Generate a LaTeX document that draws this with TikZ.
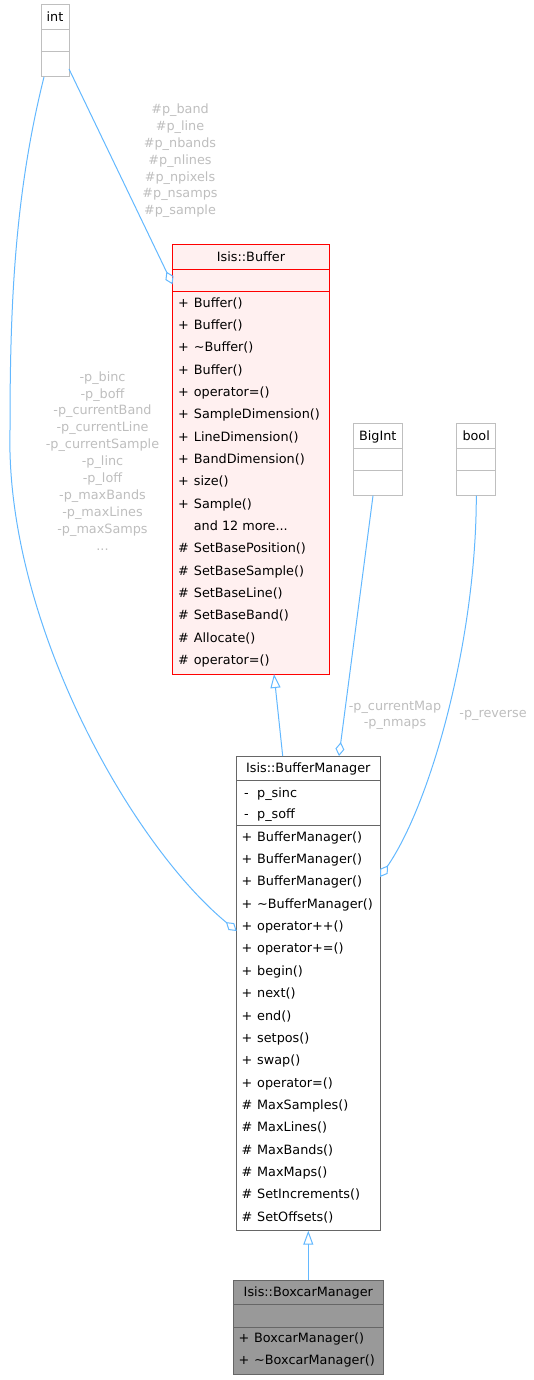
\documentclass[tikz,border=0pt]{standalone}
\usepackage{fontspec}
\setmainfont{DejaVu Sans}
\usetikzlibrary{arrows.meta}
\definecolor{edgec}{HTML}{63B8FF}
\definecolor{lblc}{HTML}{BEBEBE}
\definecolor{gryc}{HTML}{BFBFBF}
\definecolor{pinkc}{HTML}{FFF0F0}
\definecolor{dgrayc}{HTML}{666666}
\definecolor{mgrayc}{HTML}{999999}
\newcommand{\vsym}[1]{\makebox[15.7pt][l]{#1}}
\newcommand{\moretxt}{and 12 more...}
\begin{document}
\begin{tikzpicture}[x=1pt,y=-1pt, font=\fontsize{12.8}{16.9}\selectfont,
  cls/.style={draw, line width=1pt, anchor=north west, inner sep=0pt, outer sep=0pt},
  txt/.style={anchor=base west, inner sep=0pt},
  ttl/.style={anchor=base, inner sep=0pt},
  lab/.style={text=lblc, align=center, inner sep=0pt},
  edg/.style={draw=edgec, line width=1pt},
  agg/.style={edg, {Diamond[open,length=14pt,width=9pt]}-},
  inh/.style={edg, {Triangle[open,length=14pt,width=10pt]}-}]
\useasboundingbox (0,0) rectangle (533,1380);

% int
\node[cls, draw=gryc, fill=white, minimum width=28pt, minimum height=72pt] (int) at (41,5) {};
\node[ttl] (intT) at (55,22) {int};
\draw[gryc, line width=1pt] (int.west |- 0,30) -- (int.east |- 0,30);
\draw[gryc, line width=1pt] (int.west |- 0,52) -- (int.east |- 0,52);

% BigInt
\node[cls, draw=gryc, fill=white, minimum width=49pt, minimum height=72.4pt] (bigint) at (353.3,423.3) {};
\node[ttl] (bigintT) at (377.8,440.4) {BigInt};
\draw[gryc, line width=1pt] (bigint.west |- 0,448.3) -- (bigint.east |- 0,448.3);
\draw[gryc, line width=1pt] (bigint.west |- 0,470.7) -- (bigint.east |- 0,470.7);

% bool
\node[cls, draw=gryc, fill=white, minimum width=39pt, minimum height=72.4pt] (bool) at (456.7,423.3) {};
\node[ttl] (boolT) at (476.2,440.4) {bool};
\draw[gryc, line width=1pt] (bool.west |- 0,448.3) -- (bool.east |- 0,448.3);
\draw[gryc, line width=1pt] (bool.west |- 0,470.7) -- (bool.east |- 0,470.7);

% Buffer
\node[cls, draw=red, fill=pinkc, minimum width=157pt, minimum height=429.5pt] (buf) at (172.5,244.5) {};
\node[ttl] (bufT) at (251,261.6) {Isis::Buffer};
\draw[red, line width=1pt] (buf.west |- 0,269.3) -- (buf.east |- 0,269.3);
\draw[red, line width=1pt] (buf.west |- 0,291.7) -- (buf.east |- 0,291.7);
\foreach \s/\t [count=\i from 0] in {+/Buffer(), +/Buffer(), +/\textasciitilde Buffer(), +/Buffer(), +/operator=(), +/SampleDimension(), +/LineDimension(), +/BandDimension(), +/size(), +/Sample(), /\moretxt, \#/SetBasePosition(), \#/SetBaseSample(), \#/SetBaseLine(), \#/SetBaseBand(), \#/Allocate(), \#/operator=()}
  \node[txt] (bufm\i) at (178, 307.2+\i*22.33) {\vsym{\s}\t};

% BufferManager
\node[cls, draw=dgrayc, fill=white, minimum width=143.3pt, minimum height=474.7pt] (bm) at (236.7,756) {};
\node[ttl] (bmT) at (308.3,772.9) {Isis::BufferManager};
\draw[dgrayc, line width=1pt] (bm.west |- 0,780.7) -- (bm.east |- 0,780.7);
\draw[dgrayc, line width=1pt] (bm.west |- 0,825.7) -- (bm.east |- 0,825.7);
\node[txt] (bma0) at (241.3,797.2) {\vsym{\hspace{2.5pt}-}p\_sinc};
\node[txt] (bma1) at (241.3,818.8) {\vsym{\hspace{2.5pt}-}p\_soff};
\foreach \s/\t [count=\i from 0] in {+/BufferManager(), +/BufferManager(), +/BufferManager(), +/\textasciitilde BufferManager(), +/operator++(), +/operator+=(), +/begin(), +/next(), +/end(), +/setpos(), +/swap(), +/operator=(), \#/MaxSamples(), \#/MaxLines(), \#/MaxBands(), \#/MaxMaps(), \#/SetIncrements(), \#/SetOffsets()}
  \node[txt] (bmm\i) at (241.3, 841.2+\i*22.35) {\vsym{\s}\t};

% BoxcarManager
\node[cls, draw=dgrayc, fill=mgrayc, minimum width=150pt, minimum height=94.3pt] (bcm) at (233.3,1280) {};
\node[ttl] (bcmT) at (308.3,1296.6) {Isis::BoxcarManager};
\draw[dgrayc, line width=1pt] (bcm.west |- 0,1304) -- (bcm.east |- 0,1304);
\draw[dgrayc, line width=1pt] (bcm.west |- 0,1327.7) -- (bcm.east |- 0,1327.7);
\node[txt] (bcmm0) at (238.3,1342.8) {\vsym{+}BoxcarManager()};
\node[txt] (bcmm1) at (238.3,1364.5) {\vsym{+}\textasciitilde BoxcarManager()};

% edges
\draw[agg] (buf.west |- 0,284.3) -- (int.east |- 0,69);
\draw[agg] (bm.west |- 0,931) .. controls (130,843) and (5,620) .. (10,430)
            .. controls (10,310) and (14,197) .. (int.south -| 44,0);
\draw[inh] (buf.south -| 274,0) -- (bm.north -| 282.7,0);
\draw[agg] (bm.north -| 339,0) -- (bigint.south -| 373,0);
\draw[agg] (bm.east |- 0,877) .. controls (431,803) and (476.3,640) .. (bool.south -| 476.3,0);
\draw[inh] (bm.south -| 308.3,0) -- (bcm.north -| 308.3,0);

% labels
\node[lab] (l1) at (180,160.8) {\#p\_band\\\#p\_line\\\#p\_nbands\\\#p\_nlines\\\#p\_npixels\\\#p\_nsamps\\\#p\_sample};
\node[lab] (l2) at (102.5,460.8) {-p\_binc\\-p\_boff\\-p\_currentBand\\-p\_currentLine\\-p\_currentSample\\-p\_linc\\-p\_loff\\-p\_maxBands\\-p\_maxLines\\-p\_maxSamps\\...};
\node[lab] (l3) at (395,715.3) {-p\_currentMap\\-p\_nmaps};
\node[lab] (l4) at (493,715.7) {-p\_reverse};
\end{tikzpicture}
\end{document}
